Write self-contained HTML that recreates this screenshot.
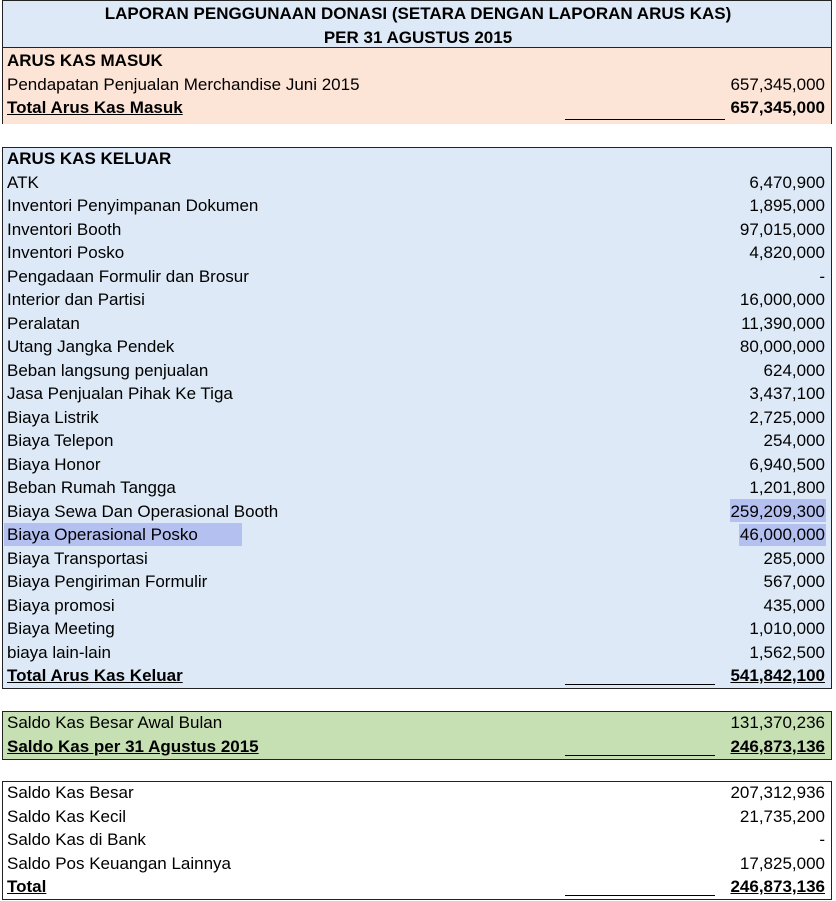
<!DOCTYPE html>
<html><head><meta charset="utf-8"><style>
body{margin:0;width:836px;height:901px;background:#fff;position:relative;font-family:"Liberation Sans Narrow","Liberation Sans",sans-serif;font-size:17px;color:#000;overflow:hidden}
.box{position:absolute;left:2px;width:830px;border:1.5px solid #222;box-sizing:border-box}
.r{position:absolute;left:7px;right:11px;height:24px;line-height:24px;white-space:nowrap;margin-top:1px}
.r .v{position:absolute;right:0;top:0}
.b{font-weight:bold}
.u{text-decoration:underline}
.ln{position:absolute;left:558px;width:150px;top:20px;border-top:1.3px solid #000}
</style></head><body>
<div class="box" style="top:0;height:124px;background:#fce4d6;border-bottom:none"></div>
<div style="position:absolute;left:2px;top:0;width:830px;height:48px;background:#dde9f6;border:1.5px solid #222;box-sizing:border-box"></div>
<div class="r b" style="top:1px;text-align:center;left:0;right:0">LAPORAN PENGGUNAAN DONASI (SETARA DENGAN LAPORAN ARUS KAS)</div>
<div class="r b" style="top:25px;text-align:center;left:0;right:0">PER 31 AGUSTUS 2015</div>
<div class="r b" style="top:48px">ARUS KAS MASUK</div>
<div class="r" style="top:72px">Pendapatan Penjualan Merchandise Juni 2015<span class="v">657,345,000</span></div>
<div class="r b" style="top:95px"><span class="u">Total Arus Kas Masuk</span><div class="ln" style="left:558px;width:160px;top:23px"></div><span class="v">657,345,000</span></div>

<div class="box" style="top:147px;height:542px;background:#dde9f6"></div>
<div class="r b" style="top:146px">ARUS KAS KELUAR</div>
<div class="r" style="top:170px">ATK<span class="v">6,470,900</span></div>
<div class="r" style="top:193px">Inventori Penyimpanan Dokumen<span class="v">1,895,000</span></div>
<div class="r" style="top:217px">Inventori Booth<span class="v">97,015,000</span></div>
<div class="r" style="top:240px">Inventori Posko<span class="v">4,820,000</span></div>
<div class="r" style="top:264px">Pengadaan Formulir dan Brosur<span class="v">-</span></div>
<div class="r" style="top:287px">Interior dan Partisi<span class="v">16,000,000</span></div>
<div class="r" style="top:311px">Peralatan<span class="v">11,390,000</span></div>
<div class="r" style="top:334px">Utang Jangka Pendek<span class="v">80,000,000</span></div>
<div class="r" style="top:358px">Beban langsung penjualan<span class="v">624,000</span></div>
<div class="r" style="top:381px">Jasa Penjualan Pihak Ke Tiga<span class="v">3,437,100</span></div>
<div class="r" style="top:405px">Biaya Listrik<span class="v">2,725,000</span></div>
<div class="r" style="top:428px">Biaya Telepon<span class="v">254,000</span></div>
<div class="r" style="top:452px">Biaya Honor<span class="v">6,940,500</span></div>
<div class="r" style="top:475px">Beban Rumah Tangga<span class="v">1,201,800</span></div>
<div style="position:absolute;left:730px;top:499px;width:96px;height:23px;background:#b4c0f0"></div>
<div style="position:absolute;left:739px;top:524px;width:87px;height:22px;background:#b4c0f0"></div>
<div style="position:absolute;left:4px;top:523px;width:238px;height:23px;background:#b4c0f0"></div>
<div class="r" style="top:499px">Biaya Sewa Dan Operasional Booth<span class="v">259,209,300</span></div>
<div class="r" style="top:522px">Biaya Operasional Posko<span class="v">46,000,000</span></div>
<div class="r" style="top:546px">Biaya Transportasi<span class="v">285,000</span></div>
<div class="r" style="top:569px">Biaya Pengiriman Formulir<span class="v">567,000</span></div>
<div class="r" style="top:593px">Biaya promosi<span class="v">435,000</span></div>
<div class="r" style="top:616px">Biaya Meeting<span class="v">1,010,000</span></div>
<div class="r" style="top:640px">biaya lain-lain<span class="v">1,562,500</span></div>
<div class="r b" style="top:663px"><span class="u">Total Arus Kas Keluar</span><div class="ln"></div><span class="v u">541,842,100</span></div>

<div class="box" style="top:711px;height:49px;background:#c6e0b4"></div>
<div class="r" style="top:710px">Saldo Kas Besar Awal Bulan<span class="v">131,370,236</span></div>
<div class="r b" style="top:734px"><span class="u">Saldo Kas per 31 Agustus 2015</span><div class="ln"></div><span class="v u">246,873,136</span></div>

<div class="box" style="top:781px;height:119px;background:#fff"></div>
<div class="r" style="top:780px">Saldo Kas Besar<span class="v">207,312,936</span></div>
<div class="r" style="top:804px">Saldo Kas Kecil<span class="v">21,735,200</span></div>
<div class="r" style="top:827px">Saldo Kas di Bank<span class="v">-</span></div>
<div class="r" style="top:851px">Saldo Pos Keuangan Lainnya<span class="v">17,825,000</span></div>
<div class="r b" style="top:874px"><span class="u">Total</span><div class="ln"></div><span class="v u">246,873,136</span></div>
</body></html>
